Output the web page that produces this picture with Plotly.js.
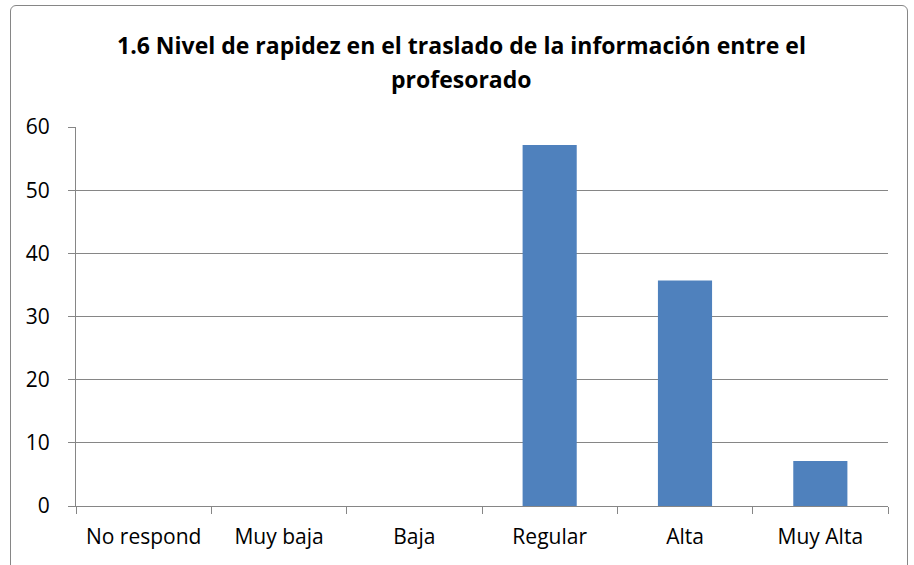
<!DOCTYPE html>
<html><head><meta charset="utf-8">
<script src="https://cdn.plot.ly/plotly-3.0.1.min.js"></script>
<style>
html,body{margin:0;padding:0;background:#fff;overflow:hidden;}
#wrap{position:relative;width:914px;height:565px;}
#frame{position:absolute;left:10px;top:5px;width:898px;height:620px;border:1px solid #868686;border-radius:6px;box-sizing:border-box;pointer-events:none;}
#chart{position:absolute;left:0;top:0;width:914px;height:565px;}
</style></head>
<body><div id="wrap"><div id="chart"></div><div id="frame"></div></div>
<script>
const categories = ["No respond", "Muy baja", "Baja", "Regular", "Alta", "Muy Alta"];
const values = [0, 0, 0, 57.14, 35.71, 7.14];
const yTicks = [0, 10, 20, 30, 40, 50, 60];
const titleLines = ["1.6 Nivel de rapidez en el traslado de la información entre el", "profesorado"];

const FONT = "'Open Sans', Carlito, Calibri, sans-serif";
const titleY = [1.2164, 1.1266];
Plotly.newPlot("chart", [{
  type: "bar",
  x: categories,
  y: values,
  width: 0.4,
  marker: {color: "#4F81BD"},
  hoverinfo: "none"
}], {
  width: 914, height: 565,
  margin: {l: 76, r: 26, t: 127, b: 59},
  paper_bgcolor: "#fff", plot_bgcolor: "#fff",
  showlegend: false,
  font: {family: FONT, size: 21, color: "#000"},
  annotations: titleLines.map((t, i) => ({
    text: "<b>" + t + "</b>", xref: "paper", yref: "paper", x: 0.475, y: titleY[i],
    xanchor: "center", yanchor: "middle", showarrow: false,
    font: {family: FONT, size: 23, color: "#000"}
  })),
  xaxis: {type: "category", showgrid: false, showline: true, linecolor: "#868686", linewidth: 1,
          ticks: "outside", tickson: "boundaries", ticklen: 7, tickcolor: "#868686",
          ticklabelstandoff: 12,
          tickfont: {family: FONT, size: 21}, zeroline: false},
  yaxis: {range: [0, 60], tickvals: yTicks, showgrid: true, gridcolor: "#868686", gridwidth: 1,
          showline: true, linecolor: "#868686", linewidth: 1, ticks: "outside", ticklen: 7,
          ticklabelstandoff: 14,
          tickcolor: "#868686", tickfont: {family: FONT, size: 21}, zeroline: false}
}, {displayModeBar: false, staticPlot: true});
</script></body></html>
